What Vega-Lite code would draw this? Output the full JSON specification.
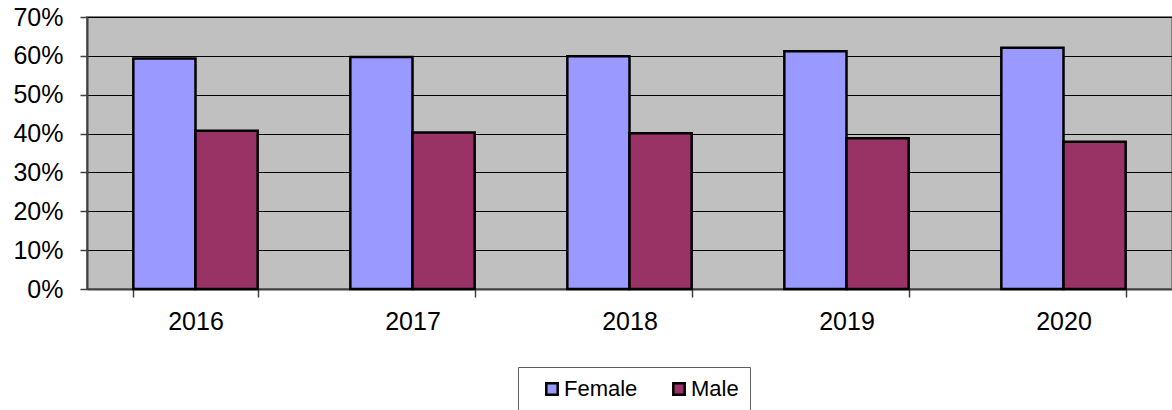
{
  "$schema": "https://vega.github.io/schema/vega-lite/v6.json",
  "width": 1085,
  "height": 272,
  "autosize": {"type": "none"},
  "padding": {"left": 87, "top": 17, "right": 0, "bottom": 121},
  "background": "white",
  "config": {
    "font": "Liberation Sans",
    "view": {"fill": "#C0C0C0", "stroke": "#808080", "strokeWidth": 2}
  },
  "data": {
    "values": [
      {"year": "2016", "gender": "Female", "share": 0.593},
      {"year": "2016", "gender": "Male", "share": 0.407},
      {"year": "2017", "gender": "Female", "share": 0.597},
      {"year": "2017", "gender": "Male", "share": 0.403},
      {"year": "2018", "gender": "Female", "share": 0.599},
      {"year": "2018", "gender": "Male", "share": 0.401},
      {"year": "2019", "gender": "Female", "share": 0.612},
      {"year": "2019", "gender": "Male", "share": 0.388},
      {"year": "2020", "gender": "Female", "share": 0.621},
      {"year": "2020", "gender": "Male", "share": 0.379}
    ]
  },
  "mark": {"type": "bar", "stroke": "black", "strokeWidth": 2.5},
  "encoding": {
    "x": {
      "field": "year",
      "type": "nominal",
      "scale": {"paddingInner": 0.427, "paddingOuter": 0.2135},
      "axis": {
        "title": null,
        "labelAngle": 0,
        "labelFontSize": 25,
        "labelColor": "black",
        "labelPadding": 12,
        "tickBand": "extent",
        "tickSize": 8,
        "tickColor": "#404040",
        "tickWidth": 1.5,
        "domainColor": "#404040",
        "domainWidth": 2,
        "grid": false
      }
    },
    "xOffset": {"field": "gender", "type": "nominal", "scale": {"paddingInner": 0, "paddingOuter": 0}},
    "y": {
      "field": "share",
      "type": "quantitative",
      "scale": {"domain": [0, 0.7], "nice": false},
      "axis": {
        "title": null,
        "values": [0, 0.1, 0.2, 0.3, 0.4, 0.5, 0.6, 0.7],
        "format": ".0%",
        "labelFontSize": 25,
        "labelColor": "black",
        "labelPadding": 17,
        "tickSize": 7,
        "tickColor": "#404040",
        "tickWidth": 1.5,
        "domainColor": "#404040",
        "domainWidth": 2,
        "grid": true,
        "gridColor": "black",
        "gridWidth": 1.2,
        "gridOpacity": 1
      }
    },
    "color": {
      "field": "gender",
      "type": "nominal",
      "scale": {"domain": ["Female", "Male"], "range": ["#9999FF", "#993366"]},
      "legend": {
        "title": null,
        "orient": "none",
        "legendX": 431,
        "legendY": 350,
        "direction": "horizontal",
        "padding": 11,
        "symbolOffset": 12,
        "strokeColor": "#606060",
        "fillColor": "white",
        "symbolType": "square",
        "symbolSize": 130,
        "symbolStrokeColor": "black",
        "symbolStrokeWidth": 2.5,
        "symbolOpacity": 1,
        "labelFontSize": 22,
        "labelColor": "black",
        "labelOffset": 1,
        "columnPadding": 18
      }
    }
  }
}
